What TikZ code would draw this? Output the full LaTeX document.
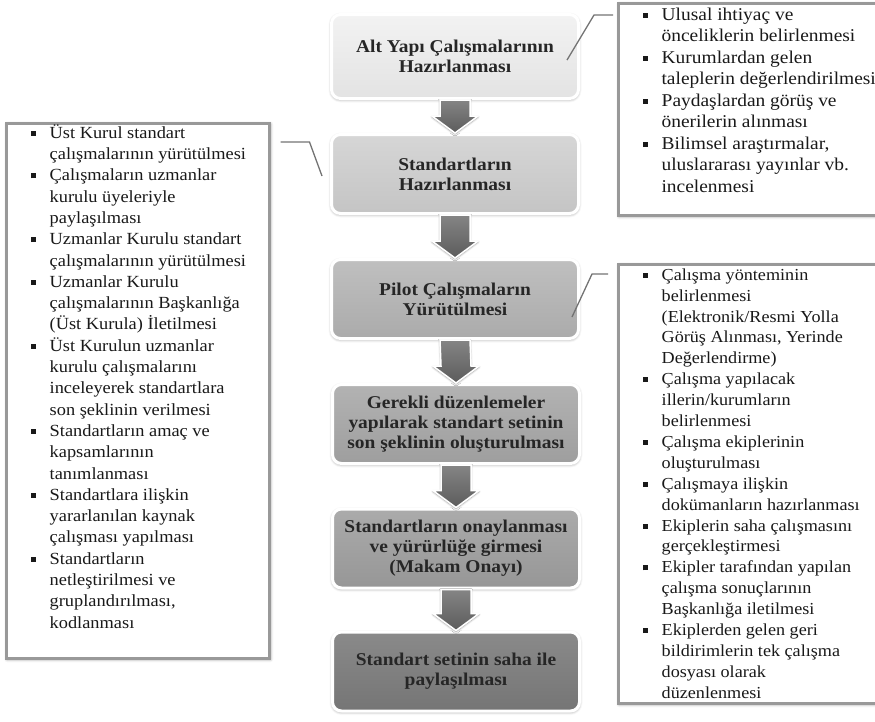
\documentclass[tikz,border=0pt]{standalone}
\usepackage{fontspec}
\setmainfont[FakeStretch=1.08]{Liberation Serif}
\usetikzlibrary{shadows.blur}
\newcommand\bul{\makebox[18.5pt][l]{\rule[2.5pt]{5pt}{5pt}}}
\newcommand\ind[1][18.5pt]{\hspace*{#1}}
\tikzset{
	stage/.style 2 args={rounded corners=9pt,draw=white,line width=3pt,
		top color=black!#1,bottom color=black!#2,
		minimum width=247pt,minimum height=79pt,align=center,
		font=\fontsize{18}{20}\selectfont\bfseries,text=black!85,
		blur shadow={shadow xshift=0pt,shadow yshift=-1pt,shadow blur radius=3pt,shadow opacity=45}},
	listbox/.style={draw=black!40,line width=2.5pt,fill=white,anchor=north west,
		blur shadow={shadow xshift=1pt,shadow yshift=-1pt,shadow blur radius=3pt,shadow opacity=50}},
	listtext/.style={align=left,inner sep=0pt,anchor=north west,text=black!90},
	callout/.style={draw=black!55,line width=1.3pt},
	blockarrow/.style={draw=white,line width=1.5pt,top color=black!48,bottom color=black!64,
		blur shadow={shadow xshift=0pt,shadow yshift=-1pt,shadow blur radius=2pt,shadow opacity=45}}
}

\begin{document}
\begin{tikzpicture}[x=1pt,y=-1pt]
\useasboundingbox (0,0) rectangle (875,721);

% side lists
\node[listbox,minimum width=263pt,minimum height=535pt] (left) at (5,122) {};
\node[listbox,minimum width=270pt,minimum height=212pt] (r1) at (617,2) {};
\node[listbox,minimum width=270pt,minimum height=439pt] (r2) at (617,263) {};

\node[listtext,font=\fontsize{17}{21.3}\selectfont] (left text) at ([shift={(26,0)}]left.north west) {\rule{0pt}{16pt}%
	\bul Üst Kurul standart\\
	\ind çalışmalarının yürütülmesi\\
	\bul Çalışmaların uzmanlar\\
	\ind kurulu üyeleriyle\\
	\ind paylaşılması\\
	\bul Uzmanlar Kurulu standart\\
	\ind çalışmalarının yürütülmesi\\
	\bul Uzmanlar Kurulu\\
	\ind çalışmalarının Başkanlığa\\
	\ind (Üst Kurula) İletilmesi\\
	\bul Üst Kurulun uzmanlar\\
	\ind kurulu çalışmalarını\\
	\ind inceleyerek standartlara\\
	\ind son şeklinin verilmesi\\
	\bul Standartların amaç ve\\
	\ind kapsamlarının\\
	\ind tanımlanması\\
	\bul Standartlara ilişkin\\
	\ind yararlanılan kaynak\\
	\ind çalışması yapılması\\
	\bul Standartların\\
	\ind netleştirilmesi ve\\
	\ind gruplandırılması,\\
	\ind kodlanması};

\node[listtext,font=\fontsize{18}{21.5}\selectfont] (r1 text) at ([shift={(26,2)}]r1.north west) {\rule{0pt}{16pt}%
	\bul Ulusal ihtiyaç ve\\
	\ind[13.5pt] önceliklerin belirlenmesi\\
	\bul Kurumlardan gelen\\
	\ind[13.5pt] taleplerin değerlendirilmesi\\
	\bul Paydaşlardan görüş ve\\
	\ind[13.5pt] önerilerin alınması\\
	\bul Bilimsel araştırmalar,\\
	\ind[13.5pt] uluslararası yayınlar vb.\\
	\ind[13.5pt] incelenmesi};

\node[listtext,font=\fontsize{16.8}{20.9}\selectfont] (r2 text) at ([shift={(26,1)}]r2.north west) {\rule{0pt}{16pt}%
	\bul Çalışma yönteminin\\
	\ind belirlenmesi\\
	\ind (Elektronik/Resmi Yolla\\
	\ind Görüş Alınması, Yerinde\\
	\ind Değerlendirme)\\
	\bul Çalışma yapılacak\\
	\ind illerin/kurumların\\
	\ind belirlenmesi\\
	\bul Çalışma ekiplerinin\\
	\ind oluşturulması\\
	\bul Çalışmaya ilişkin\\
	\ind dokümanların hazırlanması\\
	\bul Ekiplerin saha çalışmasını\\
	\ind gerçekleştirmesi\\
	\bul Ekipler tarafından yapılan\\
	\ind çalışma sonuçlarının\\
	\ind Başkanlığa iletilmesi\\
	\bul Ekiplerden gelen geri\\
	\ind bildirimlerin tek çalışma\\
	\ind dosyası olarak\\
	\ind düzenlenmesi};

% stages
\node[stage={5}{11},minimum height=84pt] (b1) at (455,56.5) {Alt Yapı Çalışmalarının\\Hazırlanması};
\node[stage={16}{23}] (b2) at (455,174) {Standartların\\Hazırlanması};
\node[stage={25}{33}] (b3) at (455,299) {Pilot Çalışmaların\\Yürütülmesi};
\node[stage={30}{38}] (b4) at (456,424) {Gerekli düzenlemeler\\yapılarak standart setinin\\son şeklinin oluşturulması};
\node[stage={33}{41}] (b5) at (456,548.5) {Standartların onaylanması\\ve yürürlüğe girmesi\\(Makam Onayı)};
\node[stage={46}{54}] (b6) at (456,671.5) {Standart setinin saha ile\\paylaşılması};

\foreach \a/\b in {b1/b2,b2/b3,b3/b4,b4/b5,b5/b6}
	\draw[blockarrow] ([xshift=-15pt]\a.south) -- ([shift={(-15,-17)}]\b.north)
		-- ([shift={(-23,-17)}]\b.north) -- (\b.north) -- ([shift={(23,-17)}]\b.north)
		-- ([shift={(15,-17)}]\b.north) -- ([xshift=15pt]\a.south) -- cycle;

% callouts
\draw[callout] ([shift={(-13,3.5)}]b1.east) -- ++(27,-45) -- ([shift={(-4,13)}]r1.north west);
\draw[callout] ([shift={(10,20)}]left.north east) -- ++(29,0) -- ([shift={(-8,2)}]b2.west);
\draw[callout] ([shift={(-8,18)}]b3.east) -- ++(20,-43) -- ([shift={(-9,11)}]r2.north west);
\end{tikzpicture}
\end{document}
